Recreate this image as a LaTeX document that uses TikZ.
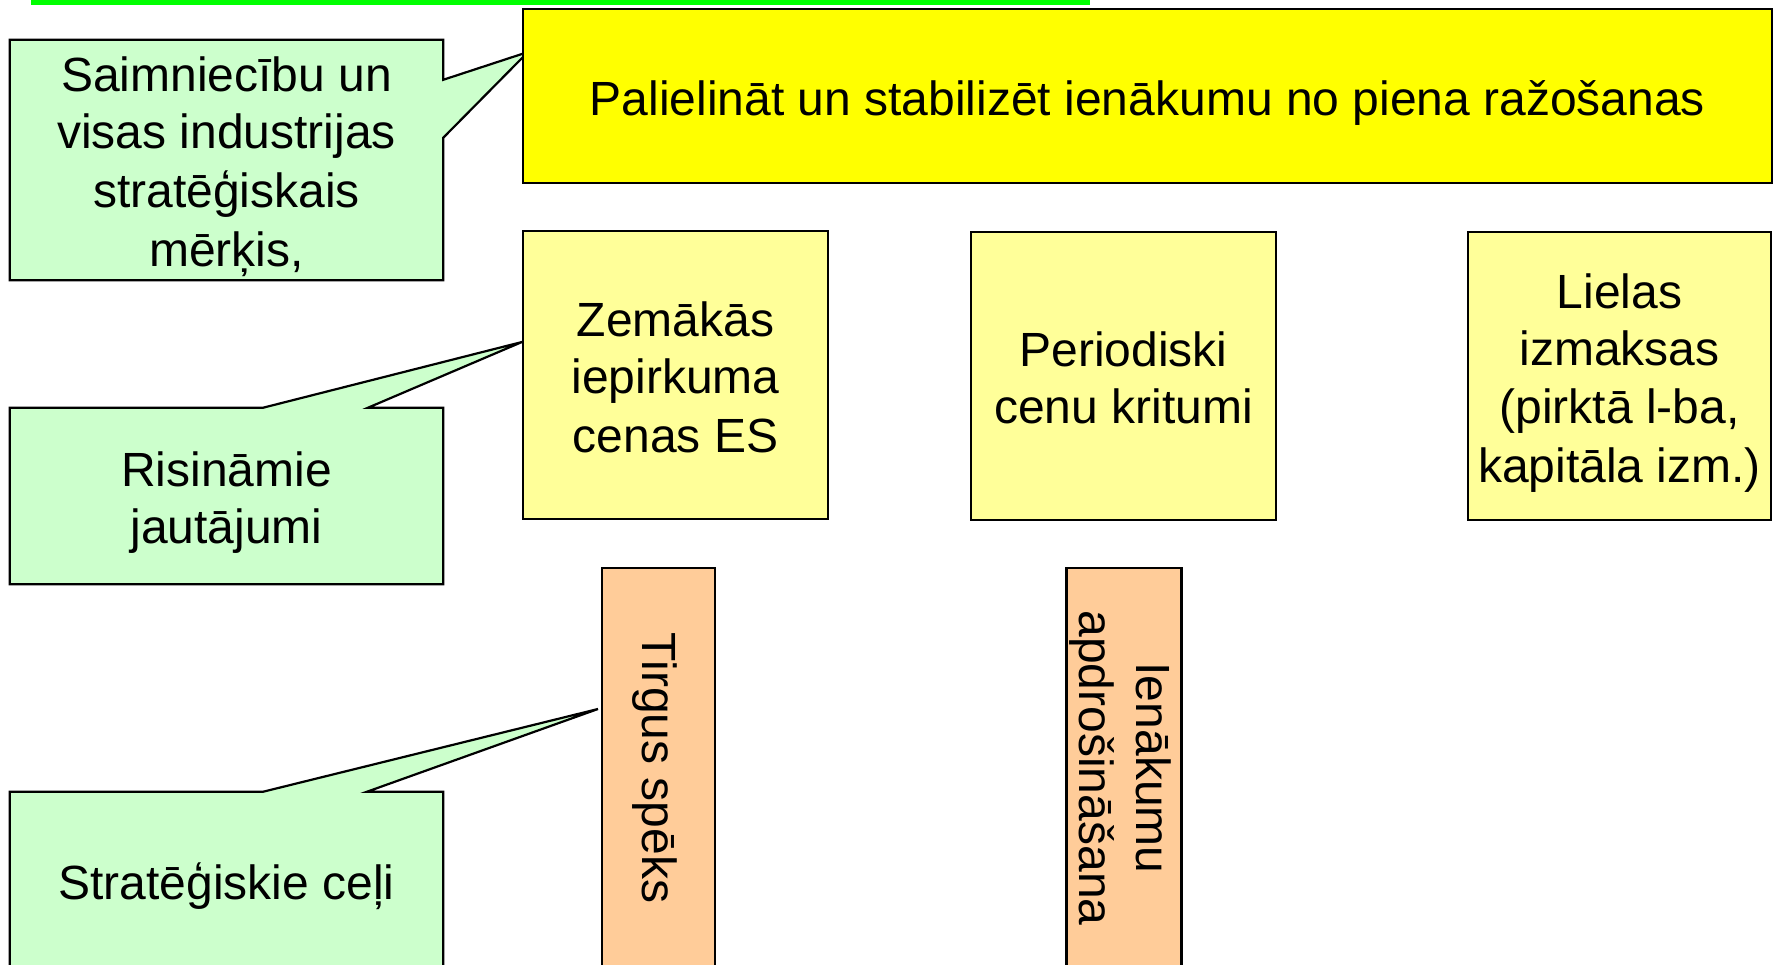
\documentclass[tikz,border=0pt]{standalone}
\usepackage{fontspec}
\setmainfont{Liberation Sans}
\usetikzlibrary{calc}
\pgfdeclarelayer{bg}
\pgfsetlayers{bg,main}
\definecolor{callgreen}{HTML}{CCFFCC}
\definecolor{goalyellow}{HTML}{FFFF00}
\definecolor{issueyellow}{HTML}{FFFF99}
\definecolor{pathorange}{HTML}{FFCC99}
\definecolor{topgreen}{HTML}{00FF00}
% line struts giving PowerPoint-like fixed line metrics
\newcommand\ms{\rule[-9.5pt]{0pt}{57.5pt}}
\newcommand\mr{\rule[-12.5pt]{0pt}{57.5pt}}
\tikzset{
  txt/.style={font=\fontsize{48}{57.5}\selectfont, align=center, inner sep=0pt},
  box/.style={txt, draw=black, line width=2.2pt},
  goalbox/.style={box, fill=goalyellow},
  issuebox/.style={box, fill=issueyellow, minimum height=288pt},
  pathbox/.style={box, fill=pathorange, rotate=-90, minimum width=400pt},
  calltext/.style={txt, minimum width=433pt},
  callout/.style={draw=black, line width=2.2pt, fill=callgreen, line join=miter},
}
\begin{document}
\begin{tikzpicture}[x=1pt,y=-1pt]
\useasboundingbox (0,0) rectangle (1775,965);
\fill[topgreen] (31,0) rectangle (1090,5);

% goal
\node[goalbox, minimum width=1249pt, minimum height=174pt] (goal) at (1147.5,96)
  {\ms Palielināt un stabilizēt ienākumu no piena ražošanas};

% issues
\node[issuebox, minimum width=305pt] (issA) at (675.5,375)
  {\ms Zemākās\\\ms iepirkuma\\\ms cenas ES};
\node[issuebox, minimum width=305pt] (issB) at (1123.5,376)
  {\ms Periodiski\\\ms cenu kritumi};
\node[issuebox, minimum width=303pt] (issC) at (1619.5,376)
  {\ms Lielas\\\ms izmaksas\\\ms (pirktā l-ba,\\\ms kapitāla izm.)};

% strategic paths
\node[pathbox, minimum height=113pt] (pathA) at (658.5,768) {\mr Tirgus spēks};
\node[pathbox, minimum height=114pt] (pathB) at (1124,768) {\mr Ienākumu\\\mr apdrošināšana};

% callout texts
\node[calltext, minimum height=240pt] (c1) at (226.5,160)
  {\ms Saimniecību un\\\ms visas industrijas\\\ms stratēģiskais\\\ms mērķis,};
\node[calltext, minimum height=176pt] (c2) at (226.5,496) {\ms Risināmie\\\ms jautājumi};
\node[calltext, minimum height=178pt] (c3) at (226.5,881) {\ms Stratēģiskie ceļi};

\coordinate (t1) at (528,52);
\coordinate (t2) at (522,342);
\coordinate (t3) at (598,709);

\begin{pgfonlayer}{bg}
\draw[callout] (c1.north west) -- (c1.north east) -- ($(c1.north east)+(0,40)$) -- (t1)
  -- ($(c1.north east)+(0,98)$) -- (c1.south east) -- (c1.south west) -- cycle;
\draw[callout] (c2.north west) -- ($(c2.north west)+(253,0)$) -- (t2)
  -- ($(c2.north west)+(358,0)$) -- (c2.north east) -- (c2.south east) -- (c2.south west) -- cycle;
\draw[callout] (c3.north west) -- ($(c3.north west)+(253,0)$) -- (t3)
  -- ($(c3.north west)+(357,0)$) -- (c3.north east) -- (c3.south east) -- (c3.south west) -- cycle;
\end{pgfonlayer}
\end{tikzpicture}
\end{document}
